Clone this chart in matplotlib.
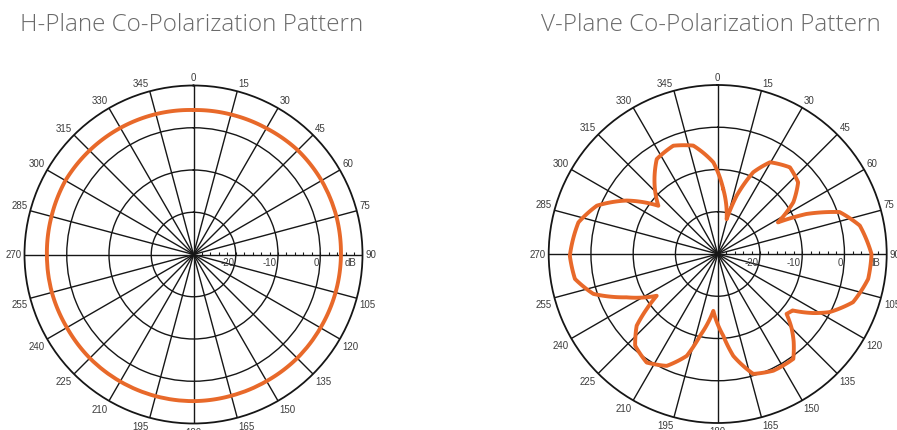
import numpy as np
import matplotlib.pyplot as plt
from matplotlib.path import Path
from matplotlib.ticker import FixedLocator

# Azimuth in degrees (clockwise from top) and measured level in dB
H_ANGLES = [0, 15, 30, 45, 60, 75, 90, 105, 120, 135, 150, 165,
            180, 195, 210, 225, 240, 255, 270, 285, 300, 315, 330, 345]
H_DB = [4.2, 4.3, 4.5, 4.9, 5.0, 5.0, 4.9, 4.8, 4.7, 4.7, 4.6, 4.6,
        4.7, 4.7, 4.7, 4.7, 4.6, 4.7, 4.7, 4.8, 5.0, 4.8, 4.6, 4.4]

V_ANGLES = [4.9, 14.4, 18.0, 23.5, 29.7, 39.8, 48.3, 55.6, 62.3, 65.7,
            71.0, 78.7, 90.0, 99.4, 109.6, 117.5, 121.7, 127.0, 131.0, 135.0,
            139.0, 144.2, 154.5, 163.5, 171.3, 176.1, 184.4, 192.2, 196.9, 204.5,
            213.2, 222.0, 228.5, 232.2, 235.6, 244.6, 252.2, 260.1, 269.3, 282.8,
            291.8, 300.4, 309.1, 316.0, 327.3, 337.7, 347.3, 357.3]
V_DB = [-14.6, -21.5, -15.5, -8.9, -5.0, -3.3, -4.5, -8.3, -13.9, -7.0,
        0.5, 4.3, 6.4, 6.1, 4.0, -0.2, -3.4, -7.8, -8.4, -5.3,
        -2.6, 0.6, 0.6, -0.4, -5.6, -10.6, -16.5, -10.2, -4.8, -0.9,
        0.7, -0.8, -4.4, -8.7, -12.5, -6.1, 0.9, 4.3, 5.0, 3.8,
        0.8, -5.0, -11.9, -8.6, -3.3, -2.3, -3.7, -8.3]

TITLES = ["H-Plane Co-Polarization Pattern", "V-Plane Co-Polarization Pattern"]
THETA_LABELS = list(range(0, 360, 15))
RING_LEVELS = [-20, -10, 0]
RING_LABELS = ["-20", "-10", "0"]
R_MIN, R_MAX = -30, 10

W, H = 897, 431
RADIUS = 169
CENTERS = [(193.5, 255.5), (717.7, 255.0)]
ORANGE = "#e8692a"
INK = "#161616"
LABEL_GRAY = "#3c3c3c"

fig = plt.figure(figsize=(W / 100, H / 100), dpi=100)
fig.patch.set_facecolor("white")

tick_mark = Path([(0, 0), (0, 1)])


def draw_polar(cx, cy, angles, levels):
    ax = fig.add_axes([(cx - RADIUS) / W, (H - cy - RADIUS) / H,
                       2 * RADIUS / W, 2 * RADIUS / H], projection="polar")
    ax.set_theta_zero_location("N")
    ax.set_theta_direction(-1)
    ax.set_ylim(R_MIN, R_MAX)

    ax.set_xticks(np.deg2rad(THETA_LABELS))
    ax.set_xticklabels([])
    ax.xaxis.set_minor_locator(FixedLocator(np.deg2rad(np.arange(0, 360, 5))))
    ax.tick_params(axis="x", which="both", direction="in", length=3.5,
                   width=0.8, color=INK, pad=0)
    ax.set_yticks(RING_LEVELS)
    ax.set_yticklabels([])
    ax.tick_params(axis="y", length=0)
    ax.grid(True, color=INK, linewidth=1.0)
    ax.spines["polar"].set_linewidth(1.3)
    ax.spines["polar"].set_color(INK)

    # azimuth labels sit just outside the rim
    for deg in THETA_LABELS:
        rad = np.deg2rad(deg)
        if deg in (0, 180):
            ha = "center"
        elif deg < 180:
            ha = "left"
        else:
            ha = "right"
        if deg in (90, 270):
            va = "center"
        elif 90 < deg < 270:
            va = "top"
        else:
            va = "bottom"
        ax.annotate(str(deg), xy=(rad, R_MAX),
                    xytext=(2.2 * np.sin(rad), 2.2 * np.cos(rad)),
                    textcoords="offset points", ha=ha, va=va,
                    fontsize=7, color=LABEL_GRAY, family="Liberation Sans",
                    annotation_clip=False)

    # dB scale along the 90 degree spoke
    scale_ticks = np.arange(-28, 10, 2)
    ax.plot(np.full(len(scale_ticks), np.pi / 2), scale_ticks, linestyle="none",
            marker=tick_mark, markersize=4.5, markeredgewidth=0.8,
            markeredgecolor=INK, clip_on=False, zorder=3)
    for lvl, txt in zip(RING_LEVELS, RING_LABELS):
        ax.annotate(txt, xy=(np.pi / 2, lvl), xytext=(-1.2, -2),
                    textcoords="offset points", ha="right", va="top",
                    fontsize=7, color=LABEL_GRAY, family="Liberation Sans")
    ax.annotate("dB", xy=(np.pi / 2, R_MAX), xytext=(-4.5, -2),
                textcoords="offset points", ha="right", va="top",
                fontsize=7, color=LABEL_GRAY, family="Liberation Sans",
                annotation_clip=False)

    # close the loop one full turn later so the last segment runs forward
    th = np.deg2rad(list(angles) + [angles[0] + 360])
    r = list(levels) + [levels[0]]
    line, = ax.plot(th, r, color=ORANGE, linewidth=2.8, solid_joinstyle="round",
                    solid_capstyle="round", zorder=5)
    # let the polar transform bend each segment along the angle
    line.get_path()._interpolation_steps = 24
    return ax


draw_polar(*CENTERS[0], H_ANGLES, H_DB)
draw_polar(*CENTERS[1], V_ANGLES, V_DB)

fig.text(20 / W, 1 - 31 / H, TITLES[0], fontsize=17.5, color="#6a6a6a",
         family="Open Sans", fontweight="light", va="baseline")
fig.text(541 / W, 1 - 31 / H, TITLES[1], fontsize=17.5, color="#6a6a6a",
         family="Open Sans", fontweight="light", va="baseline")

fig.savefig("out.png", dpi=100, facecolor="white")
